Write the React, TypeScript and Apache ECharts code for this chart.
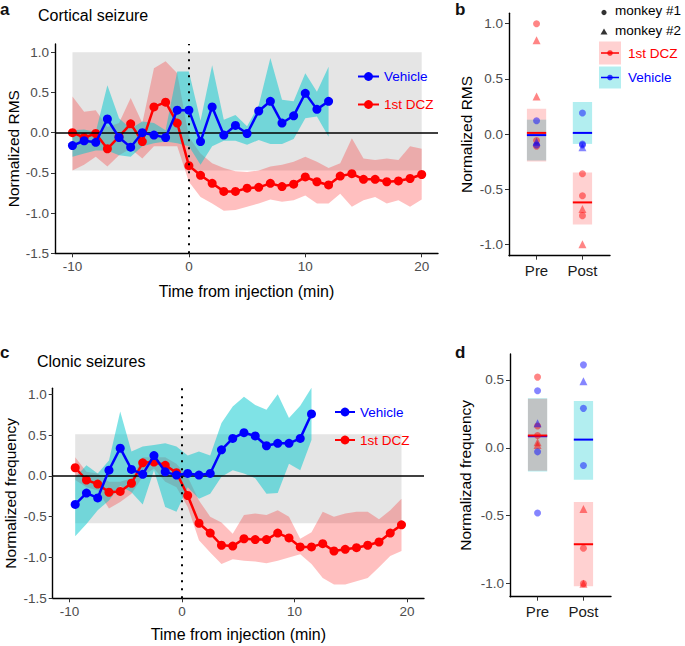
import React, { useEffect, useRef } from "react";
import * as echarts from "echarts";

const FONT = "'Liberation Sans', Arial, Helvetica, sans-serif";

// ---------- Panel a: Cortical seizure (normalized RMS) ----------
const aVehTime = [-10, -9, -8, -7, -6, -5, -4, -3, -2, -1, 0, 1, 2, 3, 4, 5, 6, 7, 8, 9, 10, 11, 12];
const aVehMean = [-0.16, -0.10, -0.12, 0.17, -0.06, -0.18, 0.00, -0.03, -0.06, 0.28, 0.28, -0.11, 0.32, -0.03, 0.09, -0.01, 0.27, 0.39, 0.12, 0.21, 0.49, 0.29, 0.39];
const aVehHigh = [0.03, 0.04, 0.01, 0.59, 0.18, 0.05, 0.14, 0.12, 0.03, 0.76, 0.76, 0.15, 0.84, 0.16, 0.22, 0.08, 0.34, 0.93, 0.41, 0.39, 0.74, 0.51, 0.82];
const aVehLow = [-0.30, -0.26, -0.22, -0.22, -0.28, -0.30, -0.17, -0.13, -0.11, -0.13, -0.17, -0.40, -0.17, -0.10, -0.10, -0.15, -0.09, -0.14, -0.14, -0.08, 0.18, 0.20, -0.05];

const aDczTime = [-10, -9, -8, -7, -6, -5, -4, -3, -2, -1, 0, 1, 2, 3, 4, 5, 6, 7, 8, 9, 10, 11, 12, 13, 14, 15, 16, 17, 18, 19, 20];
const aDczMean = [0.00, -0.06, -0.01, -0.20, -0.05, 0.11, -0.11, 0.32, 0.38, 0.12, -0.41, -0.53, -0.63, -0.73, -0.73, -0.69, -0.68, -0.63, -0.67, -0.64, -0.55, -0.61, -0.65, -0.54, -0.51, -0.58, -0.58, -0.61, -0.60, -0.57, -0.52];
const aDczHigh = [0.45, 0.26, 0.28, 0.07, 0.12, 0.43, 0.12, 0.80, 0.89, 0.74, -0.05, -0.26, -0.38, -0.44, -0.48, -0.49, -0.47, -0.42, -0.40, -0.36, -0.30, -0.36, -0.44, -0.38, -0.07, -0.32, -0.34, -0.32, -0.34, -0.17, -0.20];
const aDczLow = [-0.47, -0.40, -0.30, -0.42, -0.28, -0.20, -0.32, -0.17, -0.17, -0.17, -0.61, -0.80, -0.88, -0.97, -0.96, -0.92, -0.88, -0.83, -0.86, -0.84, -0.78, -0.88, -0.88, -0.76, -0.92, -0.84, -0.80, -0.88, -0.84, -0.92, -0.83];
const aBaselineBox = [-10, -0.47, 20, 1.0];

// ---------- Panel c: Clonic seizures (normalized frequency) ----------
const cVehTime = [-9.5, -8.5, -7.5, -6.5, -5.5, -4.5, -3.5, -2.5, -1.5, -0.5, 0.5, 1.5, 2.5, 3.5, 4.5, 5.5, 6.5, 7.5, 8.5, 9.5, 10.5, 11.5];
const cVehMean = [-0.35, -0.21, -0.27, 0.07, 0.34, 0.08, 0.02, 0.25, 0.05, 0.01, 0.03, 0.01, 0.03, 0.32, 0.46, 0.53, 0.49, 0.37, 0.40, 0.40, 0.46, 0.76];
const cVehHigh = [-0.02, 0.13, 0.03, 0.19, 0.79, 0.30, 0.36, 0.38, 0.40, 0.36, 0.25, 0.30, 0.25, 0.65, 0.85, 0.97, 0.87, 0.81, 1.00, 0.71, 0.86, 1.08];
const cVehLow = [-0.74, -0.59, -0.42, -0.30, -0.12, -0.20, -0.35, 0.07, -0.38, -0.44, -0.14, -0.28, -0.22, -0.01, 0.07, 0.03, -0.03, -0.22, -0.21, 0.15, 0.07, 0.44];

const cDczTime = [-9.5, -8.5, -7.5, -6.5, -5.5, -4.5, -3.5, -2.5, -1.5, -0.5, 0.5, 1.5, 2.5, 3.5, 4.5, 5.5, 6.5, 7.5, 8.5, 9.5, 10.5, 11.5, 12.5, 13.5, 14.5, 15.5, 16.5, 17.5, 18.5, 19.5];
const cDczMean = [0.10, -0.05, -0.10, -0.20, -0.19, -0.09, 0.16, 0.17, 0.13, 0.04, -0.24, -0.58, -0.70, -0.85, -0.86, -0.77, -0.78, -0.78, -0.70, -0.76, -0.87, -0.87, -0.83, -0.92, -0.90, -0.88, -0.85, -0.81, -0.70, -0.60];
const cDczHigh = [0.23, 0.05, 0.03, -0.07, -0.07, -0.03, 0.23, 0.23, 0.23, 0.15, -0.01, -0.30, -0.50, -0.57, -0.71, -0.48, -0.46, -0.48, -0.42, -0.50, -0.77, -0.69, -0.44, -0.50, -0.46, -0.44, -0.44, -0.53, -0.42, -0.28];
const cDczLow = [-0.05, -0.14, -0.18, -0.40, -0.32, -0.22, -0.01, 0.09, -0.07, -0.14, -0.38, -0.79, -0.94, -1.08, -1.02, -1.04, -1.05, -1.07, -1.04, -1.00, -0.96, -1.08, -1.25, -1.33, -1.33, -1.29, -1.25, -1.12, -0.98, -0.92];
const cBaselineBox = [-9.5, -0.58, 19.5, 0.51];

// ---------- Panels b & d: Pre / Post ----------
const prePostLabels = ["Pre", "Post"];
const prePostPos = [1, 2];

const bDczLow = [-0.25, -0.82];
const bDczHigh = [0.23, -0.35];
const bDczMeanVals = [0.01, -0.62];
const bVehLow = [-0.24, -0.09];
const bVehHigh = [0.13, 0.29];
const bVehMeanVals = [-0.01, 0.01];
const bPreDczCircle = [1.0, -0.06, -0.11];
const bPreDczTriangle = [0.85, 0.34];
const bPreVehCircle = [0.12, -0.10];
const bPreVehTriangle = [-0.07];
const bPostDczCircle = [-0.36, -0.56, -0.74];
const bPostDczTriangle = [-0.68, -1.0];
const bPostVehCircle = [0.19, -0.09, -0.10];
const bPostVehTriangle = [-0.12];

const dDczLow = [-0.17, -1.02];
const dDczHigh = [0.36, -0.40];
const dDczMeanVals = [0.09, -0.71];
const dVehLow = [-0.175, -0.235];
const dVehHigh = [0.365, 0.345];
const dVehMeanVals = [0.085, 0.06];
const dPreDczCircle = [0.52, 0.16, 0.09];
const dPreDczTriangle = [0.04, 0.02];
const dPreVehCircle = [0.42, -0.03, -0.48];
const dPreVehTriangle = [0.18];
const dPostDczCircle = [-0.74, -1.0];
const dPostDczTriangle = [-0.45, -1.0];
const dPostVehCircle = [0.61, 0.29, -0.13];
const dPostVehTriangle = [0.49];

const timeTicks = [-10, 0, 10, 20];
const aYTicks = [-1.5, -1.0, -0.5, 0.0, 0.5, 1.0];
const bYTicks = [-1.0, -0.5, 0.0, 0.5, 1.0];
const dYTicks = [-1.0, -0.5, 0.0, 0.5];

// ---------- Styles ----------
const BLUE = "#0000ff";
const RED = "#ff0000";
const BAND_RED = "rgba(255,0,0,0.25)";
const BAND_CYAN = "rgba(0,200,205,0.5)";
const BOX_RED = "rgba(255,0,0,0.18)";
const BOX_CYAN = "rgba(0,200,205,0.3)";
const PT_RED = "rgba(255,0,0,0.6)";
const PT_BLUE = "rgba(0,0,255,0.6)";
const GREY_BG = "#e5e5e5";
const TICK_COLOR = "#4d4d4d";

const axisLine = { show: true, onZero: false, lineStyle: { color: "#000", width: 1.4 } };
const axisTickStyle = { color: "#333", width: 1 };

function timeXAxis(gridIndex: number, min: number, max: number, nameGap: number) {
  return {
    gridIndex,
    type: "value",
    min,
    max,
    axisLine,
    axisTick: { show: true, customValues: timeTicks, length: 4, lineStyle: axisTickStyle },
    axisLabel: {
      customValues: timeTicks,
      formatter: (v: number) => String(v),
      color: TICK_COLOR,
      fontSize: 13.5,
      margin: 6,
      fontFamily: FONT,
    },
    splitLine: { show: false },
    name: "Time from injection (min)",
    nameLocation: "middle",
    nameGap,
    nameMoveOverlap: false,
    nameTextStyle: { fontSize: 16, color: "#000", fontFamily: FONT },
  };
}

function catXAxis(gridIndex: number) {
  return {
    gridIndex,
    type: "value",
    min: 0.4,
    max: 2.6,
    axisLine,
    axisTick: { show: true, customValues: prePostPos, length: 4, lineStyle: axisTickStyle },
    axisLabel: {
      customValues: prePostPos,
      formatter: (v: number) => prePostLabels[Math.round(v) - 1],
      color: "#1a1a1a",
      fontSize: 15,
      margin: 7,
      fontFamily: FONT,
    },
    splitLine: { show: false },
  };
}

function valYAxis(gridIndex: number, min: number, max: number, ticks: number[], name: string, nameGap: number) {
  return {
    gridIndex,
    type: "value",
    min,
    max,
    axisLine,
    axisTick: { show: true, customValues: ticks, length: 4, lineStyle: axisTickStyle },
    axisLabel: {
      customValues: ticks,
      formatter: (v: number) => v.toFixed(1),
      color: TICK_COLOR,
      fontSize: 13.5,
      margin: 6,
      fontFamily: FONT,
    },
    splitLine: { show: false },
    name,
    nameLocation: "middle",
    nameGap,
    nameMoveOverlap: false,
    nameTextStyle: { fontSize: 15.5, color: "#000", fontFamily: FONT },
  };
}

function bandSeries(idx: number, xs: number[], lo: number[], hi: number[], fill: string, z: number, extra: any = {}) {
  return {
    type: "custom",
    xAxisIndex: idx,
    yAxisIndex: idx,
    z,
    silent: true,
    data: xs.map((x, i) => [x, lo[i], hi[i]]),
    encode: { x: 0, y: [1, 2] },
    renderItem: (params: any, api: any) => {
      if (params.dataIndex !== 0) return { type: "group", children: [] };
      const pts: number[][] = [];
      for (let i = 0; i < xs.length; i++) pts.push(api.coord([xs[i], hi[i]]));
      for (let i = xs.length - 1; i >= 0; i--) pts.push(api.coord([xs[i], lo[i]]));
      return { type: "polygon", shape: { points: pts }, style: { fill, stroke: null } };
    },
    ...extra,
  };
}

function bgBoxSeries(idx: number, box: number[]) {
  return {
    type: "custom",
    xAxisIndex: idx,
    yAxisIndex: idx,
    z: 1,
    silent: true,
    data: [box],
    encode: { x: [0, 2], y: [1, 3] },
    renderItem: (_p: any, api: any) => {
      const p1 = api.coord([api.value(0), api.value(3)]);
      const p2 = api.coord([api.value(2), api.value(1)]);
      return {
        type: "rect",
        shape: { x: p1[0], y: p1[1], width: p2[0] - p1[0], height: p2[1] - p1[1] },
        style: { fill: GREY_BG },
      };
    },
  };
}

function refLines() {
  return {
    markLine: {
      silent: true,
      symbol: ["none", "none"],
      label: { show: false },
      animation: false,
      data: [
        { yAxis: 0, lineStyle: { color: "#000", width: 1.5, type: "solid" } },
        { xAxis: 0, lineStyle: { color: "#000", width: 2, type: [2, 6] } },
      ],
    },
  };
}

function meanLineSeries(idx: number, name: string, xs: number[], ys: number[], color: string, z: number) {
  return {
    type: "line",
    name,
    xAxisIndex: idx,
    yAxisIndex: idx,
    z,
    silent: true,
    color,
    data: xs.map((x, i) => [x, ys[i]]),
    symbol: "circle",
    symbolSize: 9,
    showAllSymbol: true,
    itemStyle: { color },
    lineStyle: { color, width: 2.5 },
  };
}

function boxSeries(idx: number, lo: number[], hi: number[], fill: string, z: number) {
  return {
    type: "custom",
    xAxisIndex: idx,
    yAxisIndex: idx,
    z,
    silent: true,
    data: prePostPos.map((x, i) => [x, lo[i], hi[i]]),
    encode: { x: 0, y: [1, 2] },
    renderItem: (_p: any, api: any) => {
      const x = api.value(0);
      const p1 = api.coord([x - 0.21, api.value(2)]);
      const p2 = api.coord([x + 0.21, api.value(1)]);
      return {
        type: "rect",
        shape: { x: p1[0], y: p1[1], width: p2[0] - p1[0], height: p2[1] - p1[1] },
        style: { fill },
      };
    },
  };
}

function boxMeanSeries(idx: number, vals: number[], color: string, z: number) {
  return {
    type: "custom",
    xAxisIndex: idx,
    yAxisIndex: idx,
    z,
    silent: true,
    data: prePostPos.map((x, i) => [x, vals[i]]),
    encode: { x: 0, y: 1 },
    renderItem: (_p: any, api: any) => {
      const x = api.value(0);
      const p1 = api.coord([x - 0.21, api.value(1)]);
      const p2 = api.coord([x + 0.21, api.value(1)]);
      return {
        type: "line",
        shape: { x1: p1[0], y1: p1[1], x2: p2[0], y2: p2[1] },
        style: { stroke: color, lineWidth: 2 },
      };
    },
  };
}

function pointSeries(idx: number, pre: number[], post: number[], symbol: string, color: string) {
  return {
    type: "scatter",
    xAxisIndex: idx,
    yAxisIndex: idx,
    z: 6,
    silent: true,
    symbol,
    symbolSize: symbol === "triangle" ? 8 : 7,
    itemStyle: { color },
    data: pre.map((v) => [1, v]).concat(post.map((v) => [2, v])),
  };
}

function legendFor(left: number, top: number, gap: number, width: number) {
  return {
    orient: "vertical",
    left,
    top,
    padding: 0,
    itemWidth: width,
    itemHeight: 11,
    itemGap: gap,
    selectedMode: false,
    textStyle: { fontSize: 13.5, fontFamily: FONT },
    data: [
      { name: "Vehicle", textStyle: { color: BLUE } },
      { name: "1st DCZ", textStyle: { color: RED } },
    ],
  };
}

function txt(x: number, y: number, text: string, fontSize: number, fill = "#000", bold = false) {
  return {
    type: "text",
    x,
    y,
    silent: true,
    style: {
      text,
      fontSize,
      fontWeight: bold ? "bold" : "normal",
      fontFamily: FONT,
      fill,
      align: "left",
      verticalAlign: "middle",
    },
  };
}

function buildOption() {
  const graphic: any[] = [
    txt(0, 9, "a", 17, "#111", true),
    txt(38, 15, "Cortical seizure", 16),
    txt(455, 9, "b", 17, "#111", true),
    txt(0, 352, "c", 17, "#111", true),
    txt(37, 361, "Clonic seizures", 16),
    txt(455, 352, "d", 17, "#111", true),
    // panel b legend
    { type: "circle", silent: true, shape: { cx: 604, cy: 12.5, r: 2.6 }, style: { fill: "#333" } },
    txt(615, 10, "monkey #1", 13.5),
    { type: "polygon", silent: true, shape: { points: [[600.5, 34.5], [607.5, 34.5], [604, 28.5]] }, style: { fill: "#333" } },
    txt(615, 30.5, "monkey #2", 13.5),
    { type: "rect", silent: true, shape: { x: 599, y: 41.5, width: 22, height: 23 }, style: { fill: BOX_RED } },
    { type: "line", silent: true, shape: { x1: 601, y1: 53, x2: 619, y2: 53 }, style: { stroke: RED, lineWidth: 1.5 } },
    { type: "circle", silent: true, shape: { cx: 610, cy: 53, r: 2.8 }, style: { fill: "rgba(255,0,0,0.75)" } },
    txt(628, 53, "1st DCZ", 13.5, RED),
    { type: "rect", silent: true, shape: { x: 599, y: 66.5, width: 22, height: 22 }, style: { fill: BOX_CYAN } },
    { type: "line", silent: true, shape: { x1: 601, y1: 77.5, x2: 619, y2: 77.5 }, style: { stroke: BLUE, lineWidth: 1.5 } },
    { type: "circle", silent: true, shape: { cx: 610, cy: 77.5, r: 2.8 }, style: { fill: "rgba(0,0,255,0.75)" } },
    txt(628, 77.5, "Vehicle", 13.5, BLUE),
  ];

  const gridBase = { outerBoundsMode: "none", containLabel: false };

  return {
    animation: false,
    backgroundColor: "#fff",
    textStyle: { fontFamily: FONT },
    grid: [
      { ...gridBase, left: 55, top: 44, width: 383, height: 209.3 },
      { ...gridBase, left: 509, top: 13.3, width: 101, height: 242.4 },
      { ...gridBase, left: 52.7, top: 388.3, width: 371.3, height: 210 },
      { ...gridBase, left: 510, top: 354, width: 101, height: 242.7 },
    ],
    xAxis: [
      timeXAxis(0, -11.5, 21.4, 30),
      catXAxis(1),
      timeXAxis(2, -11.5, 21.5, 28),
      catXAxis(3),
    ],
    yAxis: [
      valYAxis(0, -1.5, 1.103, aYTicks, "Normalized RMS", 34),
      valYAxis(1, -1.103, 1.094, bYTicks, "Normalized RMS", 35),
      valYAxis(2, -1.5, 1.074, aYTicks, "Normalized frequency", 34),
      valYAxis(3, -1.096, 0.69, dYTicks, "Normalizad frequency", 37),
    ],
    legend: [legendFor(357, 69.5, 14, 21), legendFor(334, 405, 14, 20)],
    graphic,
    series: [
      // panel a
      bgBoxSeries(0, aBaselineBox),
      bandSeries(0, aDczTime, aDczLow, aDczHigh, BAND_RED, 2),
      bandSeries(0, aVehTime, aVehLow, aVehHigh, BAND_CYAN, 3, refLines()),
      meanLineSeries(0, "1st DCZ", aDczTime, aDczMean, RED, 4),
      meanLineSeries(0, "Vehicle", aVehTime, aVehMean, BLUE, 5),
      // panel c
      bgBoxSeries(2, cBaselineBox),
      bandSeries(2, cDczTime, cDczLow, cDczHigh, BAND_RED, 2),
      bandSeries(2, cVehTime, cVehLow, cVehHigh, BAND_CYAN, 3, refLines()),
      meanLineSeries(2, "1st DCZ", cDczTime, cDczMean, RED, 4),
      meanLineSeries(2, "Vehicle", cVehTime, cVehMean, BLUE, 5),
      // panel b
      boxSeries(1, bVehLow, bVehHigh, BOX_CYAN, 2),
      boxSeries(1, bDczLow, bDczHigh, BOX_RED, 3),
      boxMeanSeries(1, bVehMeanVals, BLUE, 4),
      boxMeanSeries(1, bDczMeanVals, RED, 5),
      pointSeries(1, bPreDczCircle, bPostDczCircle, "circle", PT_RED),
      pointSeries(1, bPreDczTriangle, bPostDczTriangle, "triangle", PT_RED),
      pointSeries(1, bPreVehCircle, bPostVehCircle, "circle", PT_BLUE),
      pointSeries(1, bPreVehTriangle, bPostVehTriangle, "triangle", PT_BLUE),
      // panel d
      boxSeries(3, dVehLow, dVehHigh, BOX_CYAN, 2),
      boxSeries(3, dDczLow, dDczHigh, BOX_RED, 3),
      boxMeanSeries(3, dVehMeanVals, BLUE, 4),
      boxMeanSeries(3, dDczMeanVals, RED, 5),
      pointSeries(3, dPreDczCircle, dPostDczCircle, "circle", PT_RED),
      pointSeries(3, dPreDczTriangle, dPostDczTriangle, "triangle", PT_RED),
      pointSeries(3, dPreVehCircle, dPostVehCircle, "circle", PT_BLUE),
      pointSeries(3, dPreVehTriangle, dPostVehTriangle, "triangle", PT_BLUE),
    ],
  };
}

export default function App() {
  const ref = useRef<HTMLDivElement>(null);
  useEffect(() => {
    document.body.style.margin = "0";
    const chart = echarts.init(ref.current as HTMLDivElement, null, { renderer: "svg" });
    chart.setOption(buildOption() as any);
    return () => chart.dispose();
  }, []);
  return <div ref={ref} style={{ width: 685, height: 646 }} />;
}
